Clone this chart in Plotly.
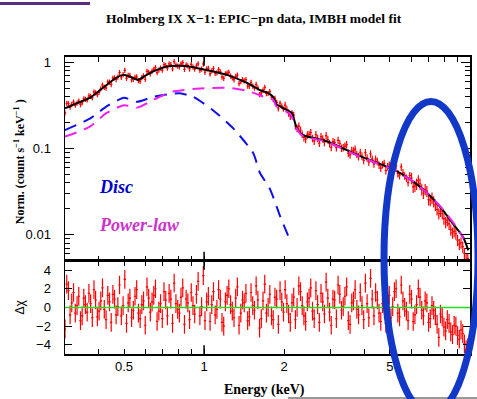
import plotly.graph_objects as go

# ---------------- data ----------------
# spectral bins, set A
energy = [0.300, 0.309, 0.318, 0.328, 0.338, 0.348, 0.358, 0.369, 0.380, 0.391,
          0.403, 0.415, 0.428, 0.441, 0.454, 0.467, 0.481, 0.496, 0.511, 0.526,
          0.542, 0.558, 0.575, 0.592, 0.610, 0.628, 0.647, 0.666, 0.686, 0.707,
          0.728, 0.750, 0.772, 0.796, 0.819, 0.844, 0.869, 0.895, 0.922, 0.950,
          0.979, 1.008, 1.038, 1.069, 1.101, 1.134, 1.168, 1.203, 1.239, 1.277,
          1.315, 1.354, 1.395, 1.437, 1.480, 1.524, 1.570, 1.617, 1.666, 1.716,
          1.767, 1.820, 1.875, 1.931, 1.989, 2.048, 2.110, 2.173, 2.238, 2.305,
          2.374, 2.446, 2.519, 2.595, 2.673, 2.753, 2.835, 2.920, 3.008, 3.098,
          3.191, 3.287, 3.386, 3.487, 3.592, 3.699, 3.810, 3.925, 4.042, 4.164,
          4.289, 4.417, 4.550, 4.686, 4.827, 4.972, 5.121, 5.275, 5.433, 5.596,
          5.764, 5.937, 6.115, 6.298, 6.487, 6.682, 6.883, 7.089, 7.302, 7.521,
          7.746, 7.979, 8.218, 8.465, 8.719, 8.980, 9.250, 9.527, 9.813]

counts = [0.260, 0.335, 0.327, 0.321, 0.358, 0.341, 0.375, 0.411, 0.390, 0.445,
          0.452, 0.547, 0.508, 0.596, 0.659, 0.636, 0.765, 0.726, 0.655, 0.711,
          0.641, 0.684, 0.605, 0.702, 0.791, 0.743, 0.836, 0.765, 0.865, 0.947,
          0.864, 0.947, 1.028, 0.912, 0.966, 0.836, 0.920, 0.954, 0.843, 0.968,
          0.844, 0.772, 0.859, 0.802, 0.749, 0.832, 0.681, 0.742, 0.770, 0.666,
          0.693, 0.570, 0.634, 0.634, 0.532, 0.535, 0.558, 0.427, 0.481, 0.437,
          0.460, 0.374, 0.345, 0.338, 0.288, 0.287, 0.240, 0.245, 0.172, 0.165,
          0.135, 0.145, 0.154, 0.123, 0.132, 0.138, 0.119, 0.128, 0.104, 0.118,
          0.125, 0.102, 0.107, 0.0889, 0.0958, 0.0991, 0.0809, 0.0820, 0.0902, 0.0701,
          0.0759, 0.0756, 0.0646, 0.0655, 0.0557, 0.0647, 0.0585, 0.0638, 0.0488, 0.0528,
          0.0455, 0.0489, 0.0361, 0.0389, 0.0392, 0.0306, 0.0322, 0.0253, 0.0244, 0.0197,
          0.0189, 0.0154, 0.0148, 0.0115, 0.0110, 0.0087, 0.0081, 0.0061, 0.0053]

delchi = [-2.3, 1.8, 0.5, -0.6, 1.2, -0.9, 0.3, 1.5, -1.1, 0.8,
          -0.4, 2.1, -1.3, 0.6, 1.4, -0.8, 2.4, 0.2, -1.7, 1.0,
          -0.3, 1.9, -1.2, 0.7, 2.2, -0.5, 1.3, -1.5, 0.4, 1.7,
          -0.9, 0.9, 2.6, -0.2, 1.1, -1.8, 0.5, 1.6, -0.7, 2.8,
          0.1, -1.4, 1.2, 0.3, -0.8, 1.9, -1.6, 0.6, 2.0, -0.4,
          1.0, -1.9, 0.8, 1.5, -1.0, 0.2, 2.3, -2.2, 0.7, -0.6,
          1.4, -1.3, 0.9, 1.8, -0.5, 0.4, -1.6, 1.1, 0.0, 1.7,
          -0.9, 0.6, 2.1, -1.2, 0.3, 1.5, -0.7, 1.0, -1.9, 0.8,
          2.4, -0.3, 1.2, -1.4, 0.5, 1.9, -0.8, 0.2, 2.6, -1.1,
          0.9, 1.6, -0.6, 0.4, -1.7, 1.3, 0.1, 2.0, -1.0, 0.7,
          -0.4, 1.4, -1.5, 0.3, 1.1, -0.9, 0.5, -1.2, -0.3, -1.8,
          -0.7, -2.1, -1.3, -2.6, -1.9, -3.0, -2.4, -3.9, -4.3]

# spectral bins, set B (interleaved bins)
energy_b = [0.3045, 0.3135, 0.323, 0.333, 0.343, 0.353, 0.3635, 0.3745, 0.3855, 0.397,
            0.409, 0.4215, 0.4345, 0.4475, 0.4605, 0.474, 0.4885, 0.5035, 0.5185, 0.534,
            0.550, 0.5665, 0.5835, 0.601, 0.619, 0.6375, 0.6565, 0.676, 0.6965, 0.7175,
            0.739, 0.761, 0.784, 0.8075, 0.8315, 0.8565, 0.882, 0.9085, 0.936, 0.9645,
            0.9935, 1.023, 1.0535, 1.085, 1.1175, 1.151, 1.1855, 1.221, 1.258, 1.296,
            1.3345, 1.3745, 1.416, 1.4585, 1.502, 1.547, 1.5935, 1.6415, 1.691, 1.7415,
            1.7935, 1.8475, 1.903, 1.96, 2.0185, 2.079, 2.1415, 2.2055, 2.2715, 2.3395,
            2.41, 2.4825, 2.557, 2.634, 2.713, 2.794, 2.8775, 2.964, 3.053, 3.1445,
            3.239, 3.3365, 3.4365, 3.5395, 3.6455, 3.7545, 3.8675, 3.9835, 4.103, 4.2265,
            4.353, 4.4835, 4.618, 4.7565, 4.8995, 5.0465, 5.198, 5.354, 5.5145, 5.68,
            5.8505, 6.026, 6.2065, 6.3925, 6.5845, 6.7825, 6.986, 7.1955, 7.4115, 7.6335,
            7.8625, 8.0985, 8.3415, 8.592, 8.8495, 9.115, 9.3885, 9.67]

counts_b = [0.337, 0.304, 0.348, 0.338, 0.326, 0.379, 0.369, 0.405, 0.456, 0.425,
            0.495, 0.515, 0.593, 0.557, 0.666, 0.678, 0.676, 0.812, 0.711, 0.632,
            0.675, 0.618, 0.669, 0.640, 0.773, 0.796, 0.877, 0.820, 0.818, 0.922,
            0.966, 0.845, 0.937, 0.895, 1.001, 0.942, 0.843, 0.888, 0.919, 0.816,
            0.963, 0.845, 0.740, 0.852, 0.762, 0.784, 0.657, 0.756, 0.700, 0.633,
            0.716, 0.601, 0.615, 0.535, 0.589, 0.507, 0.510, 0.444, 0.515, 0.440,
            0.396, 0.385, 0.291, 0.312, 0.320, 0.261, 0.255, 0.184, 0.183, 0.148,
            0.129, 0.147, 0.132, 0.146, 0.116, 0.130, 0.142, 0.115, 0.121, 0.103,
            0.115, 0.103, 0.1115, 0.0847, 0.0948, 0.0860, 0.0910, 0.0733, 0.0783, 0.0872,
            0.0667, 0.0713, 0.0596, 0.0675, 0.0621, 0.0538, 0.0642, 0.0514, 0.0614, 0.0485,
            0.0404, 0.0456, 0.0370, 0.0429, 0.0337, 0.0338, 0.0257, 0.0269, 0.0223, 0.0177,
            0.0177, 0.0140, 0.0134, 0.0106, 0.0103, 0.0078, 0.0073, 0.0052]

delchi_b = [2.5, -0.8, 1.6, 0.2, -1.4, 1.0, -0.5, 0.4, 1.9, -1.0,
            0.7, -0.2, 1.3, -1.6, 0.9, 0.1, -0.9, 3.0, 0.5, -1.1,
            1.2, -0.6, 0.3, -1.9, 1.0, 0.6, 2.0, -0.4, -1.2, 0.8,
            1.5, -1.7, 0.4, -0.6, 2.1, 0.9, -1.3, 0.2, 1.4, -0.9,
            3.4, 0.6, -1.5, 1.7, -0.2, 0.9, -2.0, 1.3, 0.3, -1.1,
            2.2, -0.6, 0.5, -1.4, 1.6, -0.3, 0.8, -1.2, 2.5, 0.0,
            -0.9, 1.1, -1.8, 0.6, 1.9, -0.7, 0.5, -1.3, 2.3, 0.2,
            -1.5, 1.0, -0.4, 1.8, -1.6, 0.6, 2.7, -0.5, 0.9, -1.2,
            1.4, 0.1, 2.2, -1.8, 0.7, -0.2, 1.6, -1.3, 0.4, 3.1,
            -0.9, 0.8, -1.5, 1.2, 0.3, -1.1, 1.7, -0.6, 2.4, 0.0,
            -1.4, 0.9, -0.8, 2.0, -0.3, 0.7, -1.6, 0.2, -0.9, -3.2,
            -1.0, -2.5, -1.7, -2.9, -2.0, -3.4, -2.8, -4.5]

# model components
model_E = [0.300, 0.335, 0.372, 0.400, 0.430, 0.465, 0.497, 0.530, 0.566, 0.600,
           0.645, 0.724, 0.810, 0.900, 1.020, 1.220, 1.450, 1.620, 1.720, 1.820,
           1.870, 1.930, 2.100, 2.140, 2.230, 2.330, 2.890, 3.860, 5.150, 5.950,
           6.870, 7.940, 8.650, 9.440, 9.850]
model_N = [0.295, 0.340, 0.390, 0.460, 0.550, 0.660, 0.720, 0.680, 0.630, 0.700,
           0.790, 0.900, 0.920, 0.890, 0.820, 0.720, 0.580, 0.480, 0.450, 0.400,
           0.330, 0.310, 0.270, 0.260, 0.175, 0.146, 0.122, 0.082, 0.0575, 0.044,
           0.031, 0.019, 0.0133, 0.0093, 0.0066]

disc_E = [0.300, 0.372, 0.430, 0.500, 0.560, 0.645, 0.810, 0.910, 1.080, 1.290,
          1.530, 1.620, 1.770, 1.930, 2.100]
disc_N = [0.165, 0.223, 0.310, 0.390, 0.350, 0.400, 0.440, 0.400, 0.280, 0.171,
          0.089, 0.053, 0.034, 0.0166, 0.0088]

pl_E = [0.300, 0.372, 0.430, 0.500, 0.560, 0.645, 0.760, 0.966, 1.220, 1.450,
        1.720, 1.820, 1.870, 2.100, 2.230, 2.330, 2.900, 3.860, 5.150, 5.950,
        6.870, 7.940, 8.650, 9.200, 9.450]
pl_N = [0.138, 0.180, 0.260, 0.320, 0.300, 0.370, 0.460, 0.500, 0.510, 0.470,
        0.390, 0.370, 0.310, 0.255, 0.172, 0.143, 0.120, 0.081, 0.057, 0.044,
        0.031, 0.0195, 0.0139, 0.0106, 0.0090]

x_ticks = [0.5, 1, 2, 5, 10]
x_ticktext = ["0.5", "1", "2", "5", "10"]
x_minor = [0.3, 0.4, 0.6, 0.7, 0.8, 0.9, 3, 4, 6, 7, 8, 9]
y_ticks = [0.01, 0.1, 1]
y_ticktext = ["0.01", "0.1", "1"]
y_minor = [0.005, 0.006, 0.007, 0.008, 0.009,
           0.02, 0.03, 0.04, 0.05, 0.06, 0.07, 0.08, 0.09,
           0.2, 0.3, 0.4, 0.5, 0.6, 0.7, 0.8, 0.9]
r_ticks = [-4, -2, 0, 2, 4]

# ---------------- figure ----------------
W, H = 477, 399
L, R = 65, 470
T1, B1 = 55, 260
T2, B2 = 260, 354


def px(x):
    return x / W


def py(y):
    return 1 - y / H


RED = "#ff0000"
all_E = energy + energy_b
all_N = counts + counts_b
all_R = delchi + delchi_b
data_err = [v * (0.07 if e < 2 else (0.10 if e < 6 else 0.15)) for e, v in zip(all_E, all_N)]

fig = go.Figure()

fig.add_trace(go.Scatter(
    x=all_E, y=all_N, mode="markers",
    marker=dict(size=1, color=RED),
    error_y=dict(type="data", array=data_err, color=RED, thickness=1.2, width=0),
    error_x=dict(type="percent", value=1.0, color=RED, thickness=1.2, width=0),
    xaxis="x", yaxis="y", showlegend=False, hoverinfo="skip"))

fig.add_trace(go.Scatter(
    x=model_E, y=model_N, mode="lines",
    line=dict(color="black", width=2, shape="spline", smoothing=0.6),
    xaxis="x", yaxis="y", showlegend=False))

fig.add_trace(go.Scatter(
    x=disc_E, y=disc_N, mode="lines",
    line=dict(color="#1010e8", width=2, dash="12px,8px", shape="spline", smoothing=0.6),
    xaxis="x", yaxis="y", showlegend=False))

fig.add_trace(go.Scatter(
    x=pl_E, y=pl_N, mode="lines",
    line=dict(color="#ee22ee", width=2, dash="12px,8px", shape="spline", smoothing=0.6),
    xaxis="x", yaxis="y", showlegend=False))

fig.add_trace(go.Scatter(
    x=all_E, y=all_R, mode="markers",
    marker=dict(size=1, color=RED),
    error_y=dict(type="constant", value=1, color=RED, thickness=1.2, width=0),
    error_x=dict(type="percent", value=1.0, color=RED, thickness=1.2, width=0),
    xaxis="x2", yaxis="y2", showlegend=False, hoverinfo="skip"))

tickfont = dict(family="Liberation Sans, Arial, sans-serif", size=13, color="black")
axis_common = dict(showline=True, linecolor="black", linewidth=1.5, mirror="allticks",
                   ticks="inside", tickcolor="black", tickwidth=1, showgrid=False,
                   zeroline=False, tickfont=tickfont)

xr = [-0.5229, 1.0]
fig.update_layout(
    width=W, height=H,
    margin=dict(l=0, r=0, t=0, b=0),
    paper_bgcolor="white", plot_bgcolor="white",
    xaxis=dict(type="log", range=xr, domain=[px(L), px(R)], anchor="y",
               tickvals=x_ticks, ticktext=x_ticktext, showticklabels=False, ticklen=5,
               minor=dict(tickvals=x_minor, ticks="inside", ticklen=5, tickcolor="black", tickwidth=1),
               **axis_common),
    yaxis=dict(type="log", range=[-2.3, 0.068], domain=[py(B1), py(T1)], anchor="x",
               tickvals=y_ticks, ticktext=y_ticktext, ticklen=9, ticklabelstandoff=10,
               minor=dict(tickvals=y_minor, ticks="inside", ticklen=5, tickcolor="black", tickwidth=1),
               **axis_common),
    xaxis2=dict(type="log", range=xr, domain=[px(L), px(R)], anchor="y2",
                tickvals=x_ticks, ticktext=x_ticktext, ticklen=5, ticklabelstandoff=0,
                minor=dict(tickvals=x_minor, ticks="inside", ticklen=5, tickcolor="black", tickwidth=1),
                **axis_common),
    yaxis2=dict(range=[-5, 5], domain=[py(B2), py(T2)], anchor="x2",
                tickvals=r_ticks, ticklen=7, ticklabelstandoff=10,
                **axis_common),
)

serif = "Liberation Serif, Times New Roman, serif"


def label(text, x, y, size, color="black", family=serif, angle=0, xanchor="center"):
    fig.add_annotation(text=text, x=px(x), y=py(y), xref="paper", yref="paper",
                       showarrow=False, textangle=angle, xanchor=xanchor, yanchor="middle",
                       font=dict(family=family, size=size, color=color))


label("<b>Holmberg IX X\u22121: EPIC\u2212pn data, IMBH model fit</b>", 254, 17, 13.5)
label("<b>Norm. (count s<sup>\u22121</sup> keV<sup>\u22121</sup> )</b>", 19, 161, 12, angle=-90)
label("\u0394\u03c7", 20, 307, 12, family="Liberation Sans, Arial, sans-serif", angle=-90)
label("<b>Energy (keV)</b>", 264, 390, 14)
label("<b><i>Disc</i></b>", 97, 186, 18, color="#0000cc", xanchor="left")
label("<b><i>Power-law</i></b>", 97, 224, 18, color="#cc33cc", xanchor="left")

# zero line in residual panel
fig.add_shape(type="line", xref="x2 domain", yref="y2", x0=0, x1=1, y0=0, y1=0,
              line=dict(color="#22dd22", width=1.5))
# long ticks at 1 keV
for yr, hpx in (("y domain", B1 - T1), ("y2 domain", B2 - T2)):
    for y0, y1 in ((0, 9 / hpx), (1, 1 - 9 / hpx)):
        fig.add_shape(type="line", xref="x", yref=yr, x0=1, x1=1, y0=y0, y1=y1,
                      line=dict(color="black", width=1.5))
# purple bar at top-left
fig.add_shape(type="rect", xref="paper", yref="paper", x0=0, x1=px(90), y0=py(3), y1=1,
              line=dict(width=0), fillcolor="#5a2d82")
# thin line bottom right
fig.add_shape(type="line", xref="paper", yref="paper", x0=px(288), x1=1, y0=py(398), y1=py(398),
              line=dict(color="#333333", width=1))
# blue ellipse highlight
fig.add_shape(type="circle", xref="paper", yref="paper",
              x0=px(431 - 47), x1=px(431 + 47), y0=py(257 + 157), y1=py(257 - 157),
              line=dict(color="#1238c8", width=7))

fig.write_html("out.html", config={"displayModeBar": False, "staticPlot": True},
               post_script="document.body.style.margin='0';document.body.style.overflow='hidden';")
